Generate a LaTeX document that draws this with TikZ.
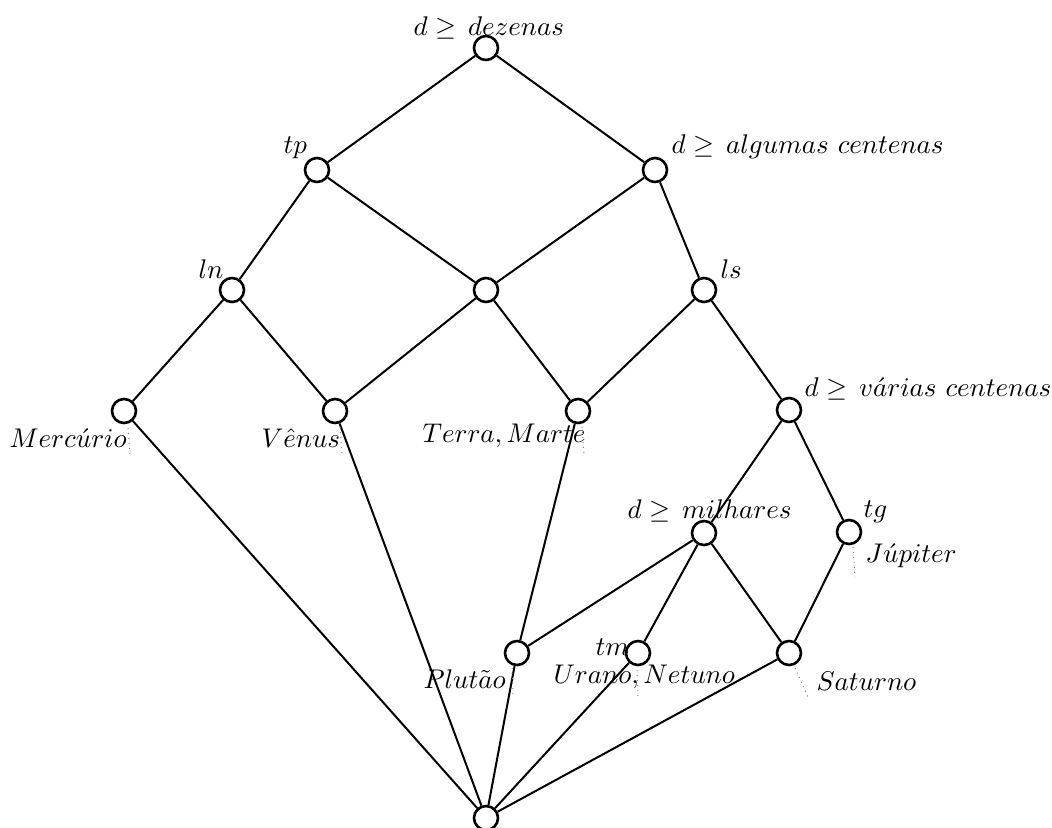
\documentclass[tikz,border=0pt]{standalone}
\begin{document}
\begin{tikzpicture}[x=0.5pt,y=-0.5pt,
  cnode/.style={circle,draw=black,fill=white,line width=1.3pt,minimum size=12pt,inner sep=0pt},
  edge/.style={line width=1pt},
  lbl/.style={anchor=base west,inner sep=0pt,scale=1.35},
  leader/.style={dotted,gray,line width=0.5pt}]
\useasboundingbox (0,0) rectangle (1052,827);
% concept nodes
\node[cnode] (top) at (486,48) {};
\node[cnode] (tp) at (317,170) {};
\node[cnode] (alg) at (655,170) {};
\node[cnode] (ln) at (232,290) {};
\node[cnode] (mid) at (486,290) {};
\node[cnode] (ls) at (704,290) {};
\node[cnode] (mer) at (124,411) {};
\node[cnode] (ven) at (335,411) {};
\node[cnode] (ter) at (578,411) {};
\node[cnode] (var) at (789,410) {};
\node[cnode] (mil) at (704,533) {};
\node[cnode] (tg) at (849,532) {};
\node[cnode] (plu) at (517,653) {};
\node[cnode] (tm) at (638,653) {};
\node[cnode] (sat) at (789,653) {};
\node[cnode] (bot) at (486,818) {};
% edges
\draw[edge] (top) -- (tp);
\draw[edge] (top) -- (alg);
\draw[edge] (tp) -- (ln);
\draw[edge] (tp) -- (mid);
\draw[edge] (alg) -- (mid);
\draw[edge] (alg) -- (ls);
\draw[edge] (ln) -- (mer);
\draw[edge] (ln) -- (ven);
\draw[edge] (mid) -- (ven);
\draw[edge] (mid) -- (ter);
\draw[edge] (ls) -- (ter);
\draw[edge] (ls) -- (var);
\draw[edge] (var) -- (mil);
\draw[edge] (var) -- (tg);
\draw[edge] (ter) -- (plu);
\draw[edge] (mil) -- (plu);
\draw[edge] (mil) -- (tm);
\draw[edge] (mil) -- (sat);
\draw[edge] (tg) -- (sat);
\draw[edge] (mer) -- (bot);
\draw[edge] (ven) -- (bot);
\draw[edge] (plu) -- (bot);
\draw[edge] (tm) -- (bot);
\draw[edge] (sat) -- (bot);
% attribute labels
\node[lbl] (ldez) at (413,35) {$d \geq \, dezenas$};
\node[lbl] (ltp) at (283,153) {$tp$};
\node[lbl] (lalg) at (671,153) {$d \geq \, algumas\ centenas$};
\node[lbl] (lln) at (198,278) {$ln$};
\node[lbl] (lls) at (720,278) {$ls$};
\node[lbl] (lvar) at (804,396) {$d \geq \, v\acute{a}rias\ centenas$};
\node[lbl] (lmil) at (627,518) {$d \geq \, milhares$};
\node[lbl] (ltg) at (863,517) {$tg$};
\node[lbl] (ltm) at (595,655) {$tm$};
% object labels
\node[lbl] (lmer) at (9,447) {$Merc\acute{u}rio$};
\node[lbl] (lven) at (261,447) {$V\hat{e}nus$};
\node[lbl] (lter) at (422,442) {$Terra,Marte$};
\node[lbl] (ljup) at (865,562) {$J\acute{u}piter$};
\node[lbl] (lplu) at (423,688) {$Plut\tilde{a}o$};
\node[lbl] (lura) at (553,683) {$Urano,Netuno$};
\node[lbl] (lsat) at (816,690) {$Saturno$};
% leaders
\coordinate (merA) at (128,428); \coordinate (merB) at (130,455);
\coordinate (venA) at (340,427); \coordinate (venB) at (342,455);
\coordinate (terA) at (582,427); \coordinate (terB) at (584,455);
\coordinate (jupA) at (853,547); \coordinate (jupB) at (855,577);
\coordinate (pluA) at (512,668); \coordinate (pluB) at (513,695);
\coordinate (uraA) at (637,670); \coordinate (uraB) at (638,697);
\coordinate (satA) at (795,668); \coordinate (satB) at (808,697);
\draw[leader] (merA) -- (merB);
\draw[leader] (venA) -- (venB);
\draw[leader] (terA) -- (terB);
\draw[leader] (jupA) -- (jupB);
\draw[leader] (pluA) -- (pluB);
\draw[leader] (uraA) -- (uraB);
\draw[leader] (satA) -- (satB);
\end{tikzpicture}
\end{document}
